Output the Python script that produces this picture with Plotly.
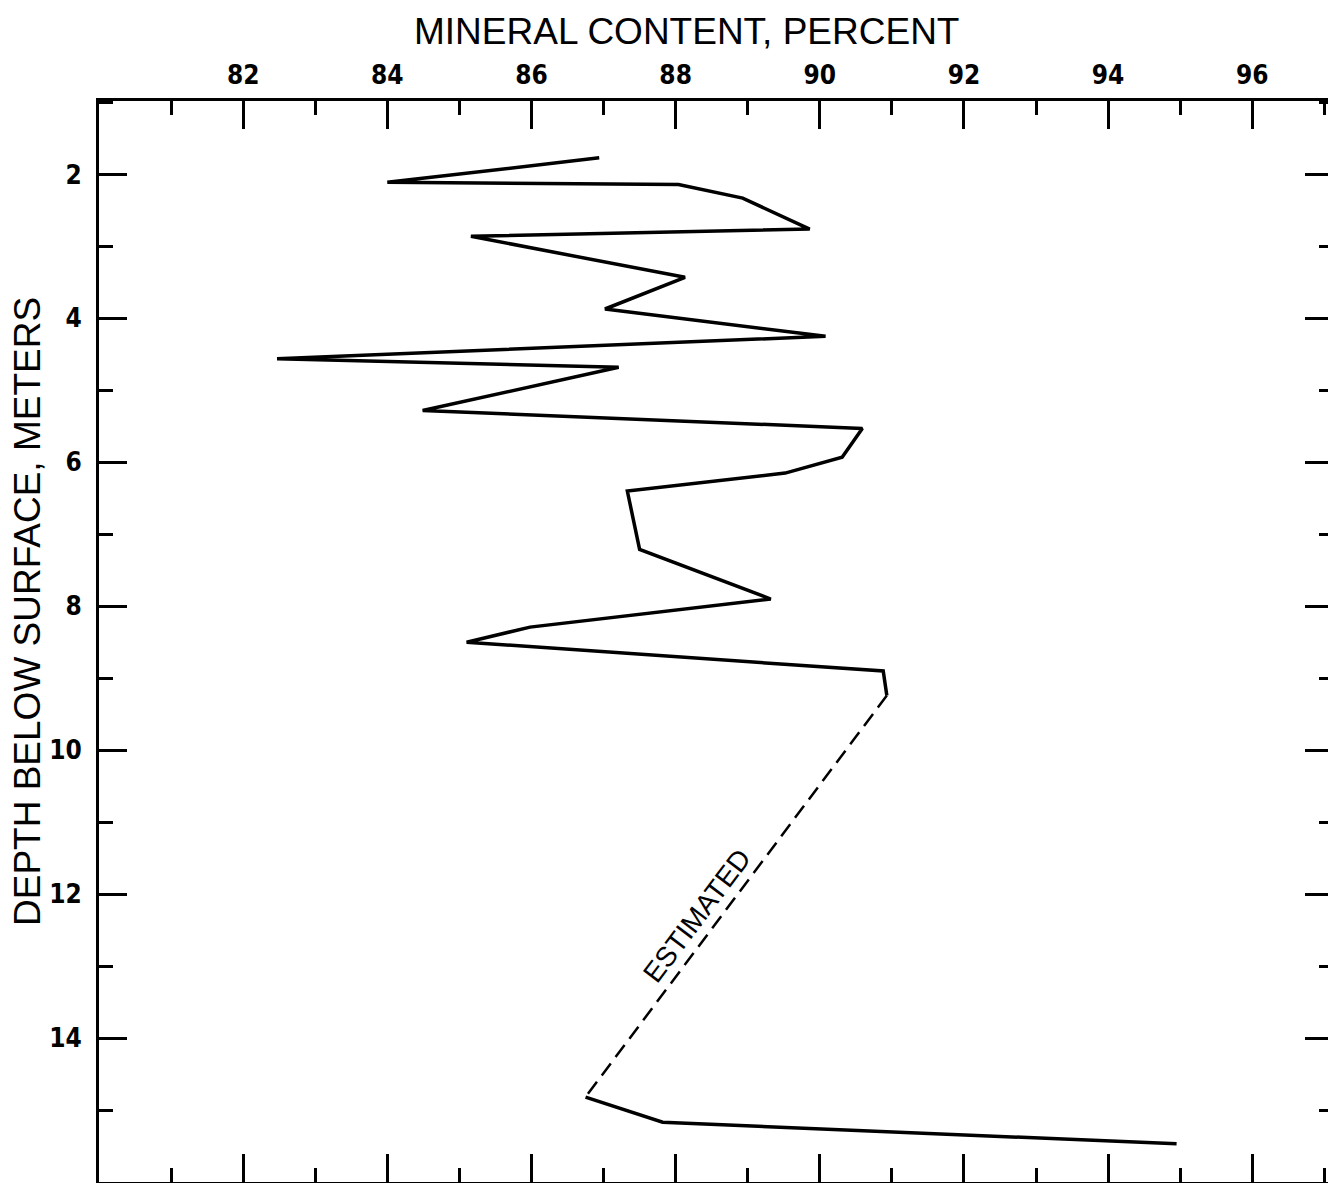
import plotly.graph_objects as go

# Measured profile (solid line), upper section
mineral_upper = [86.94, 84.00, 88.04, 88.93, 89.86, 85.16, 88.13, 87.02, 90.08, 82.47,
                 87.21, 84.49, 90.59, 90.31, 89.52, 87.33, 87.50, 89.32, 85.98, 85.10,
                 90.88, 90.93]
depth_upper = [1.77, 2.11, 2.14, 2.33, 2.76, 2.86, 3.43, 3.87, 4.25, 4.56,
               4.68, 5.28, 5.53, 5.93, 6.15, 6.40, 7.21, 7.90, 8.29, 8.50,
               8.90, 9.24]

# Estimated section (dashed)
mineral_est = [90.93, 86.75]
depth_est = [9.24, 14.82]

# Measured profile, lower section
mineral_lower = [86.75, 87.82, 94.95]
depth_lower = [14.82, 15.17, 15.47]

x_tick_vals = [82, 84, 86, 88, 90, 92, 94, 96]
x_tick_text = ["82", "84", "86", "88", "90", "92", "94", "96"]
y_tick_vals = [2, 4, 6, 8, 10, 12, 14]
y_tick_text = ["2", "4", "6", "8", "10", "12", "14"]

x_title = "MINERAL CONTENT, PERCENT"
y_title = "DEPTH BELOW SURFACE, METERS"
est_label = "ESTIMATED"

TICKFONT = dict(family="Liberation Sans Narrow, Arial Narrow, DejaVu Sans Condensed, sans-serif",
                size=26, color="black", weight="bold")
TITLEFONT = dict(family="Liberation Sans, Arial, Helvetica, sans-serif", size=37, color="black")

# page body has an 8px margin; plot area should span x 99..1333, y 101..1182 in the page
PLOT_L, PLOT_T, PLOT_W, PLOT_H = 99, 101, 1234, 1081

fig = go.Figure()
fig.add_trace(go.Scatter(x=mineral_upper, y=depth_upper, mode="lines",
                         line=dict(color="black", width=3.5), showlegend=False))
fig.add_trace(go.Scatter(x=mineral_est, y=depth_est, mode="lines",
                         line=dict(color="black", width=2.5, dash="15px,8px"), showlegend=False))
fig.add_trace(go.Scatter(x=mineral_lower, y=depth_lower, mode="lines",
                         line=dict(color="black", width=3.5), showlegend=False))

fig.update_layout(
    width=1328, height=1175,
    margin=dict(l=91, r=3, t=93, b=1, autoexpand=False),
    paper_bgcolor="white", plot_bgcolor="white",
    xaxis=dict(
        range=[80.0, 97.12], side="top", automargin=False,
        tickmode="array", tickvals=x_tick_vals, ticktext=x_tick_text,
        ticks="inside", ticklen=28, tickwidth=3, tickcolor="black",
        minor=dict(ticks="inside", ticklen=14, tickwidth=3, tickcolor="black",
                   tickmode="linear", tick0=81, dtick=2, showgrid=False),
        showline=True, linewidth=3, linecolor="black", mirror="ticks",
        showgrid=False, zeroline=False,
        tickfont=TICKFONT, ticklabelstandoff=4,
    ),
    yaxis=dict(
        range=[16.0, 0.98], automargin=False,
        tickmode="array", tickvals=y_tick_vals, ticktext=y_tick_text,
        ticks="inside", ticklen=28, tickwidth=3, tickcolor="black",
        minor=dict(ticks="inside", ticklen=14, tickwidth=3, tickcolor="black",
                   tickmode="linear", tick0=1, dtick=2, showgrid=False),
        showline=True, linewidth=3, linecolor="black", mirror="ticks",
        showgrid=False, zeroline=False,
        tickfont=TICKFONT, ticklabelstandoff=9,
    ),
    annotations=[
        dict(text=x_title, xref="paper", yref="paper",
             x=(686 - PLOT_L) / PLOT_W, y=(PLOT_T + PLOT_H - 31) / PLOT_H,
             xanchor="center", yanchor="middle", showarrow=False, font=TITLEFONT),
        dict(text=y_title, xref="paper", yref="paper",
             x=(27 - PLOT_L) / PLOT_W, y=(PLOT_T + PLOT_H - 612) / PLOT_H,
             xanchor="center", yanchor="middle", showarrow=False, textangle=-90,
             font=TITLEFONT),
        dict(text=est_label, xref="x", yref="y", x=88.30, y=12.30,
             xanchor="center", yanchor="middle", showarrow=False, textangle=-53,
             font=dict(family="Liberation Sans, Arial, sans-serif", size=28, color="black")),
    ],
)

fig.write_html("out.html")
